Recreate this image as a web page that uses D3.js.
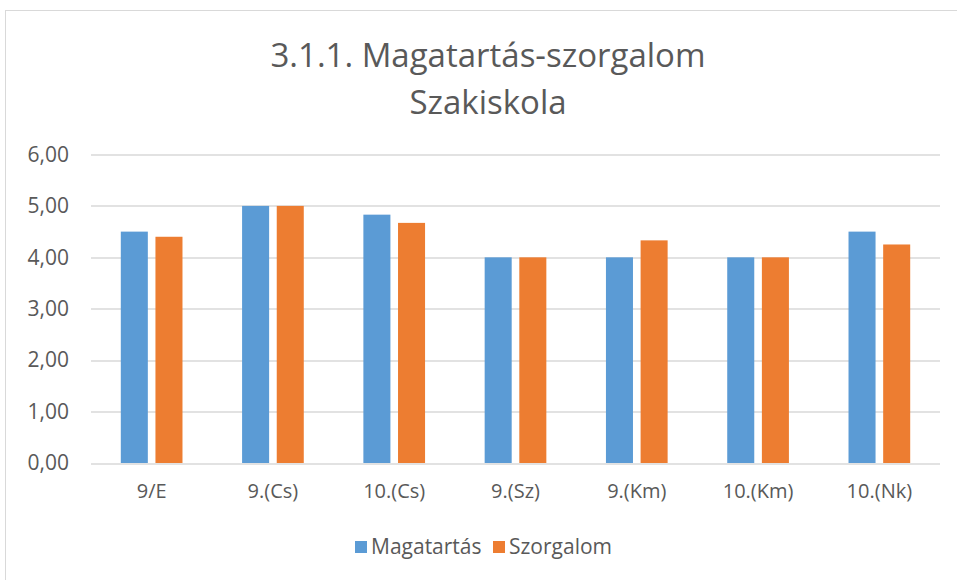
<!DOCTYPE html>
<html lang="hu">
<head>
<meta charset="UTF-8">
<title>3.1.1. Magatartás-szorgalom Szakiskola</title>
<script src="https://d3js.org/d3.v7.min.js"></script>
<style>
  body { margin: 0; background: #fff; }
  svg text { font-family: "Open Sans", "Liberation Sans", sans-serif; fill: #595959; }
</style>
</head>
<body>
<div id="chart"></div>
<script>
// chart data
var categories = ["9/E", "9.(Cs)", "10.(Cs)", "9.(Sz)", "9.(Km)", "10.(Km)", "10.(Nk)"];
var magatartas = [4.50, 5.00, 4.83, 4.00, 4.00, 4.00, 4.50];
var szorgalom  = [4.40, 5.00, 4.67, 4.00, 4.33, 4.00, 4.25];
var seriesNames = ["Magatartás", "Szorgalom"];
var colors = ["#5B9BD5", "#ED7D31"];
var yTicks = [0, 1, 2, 3, 4, 5, 6];

var width = 957, height = 580;
var margin = { top: 154.5, right: 17, bottom: 117, left: 91 };
var plotW = width - margin.left - margin.right,
    plotH = height - margin.top - margin.bottom;

var svg = d3.select("#chart").append("svg")
    .attr("width", width)
    .attr("height", height);

// outer chart border
svg.append("rect")
    .attr("x", 5.5).attr("y", 10.5)
    .attr("width", 960).attr("height", 580)
    .attr("fill", "none")
    .attr("stroke", "#D9D9D9");

// title
var title = svg.append("text")
    .attr("text-anchor", "middle")
    .style("font-size", "33px");
title.append("tspan").attr("x", 488).attr("y", 67).text("3.1.1. Magatartás-szorgalom");
title.append("tspan").attr("x", 488).attr("y", 114).text("Szakiskola");

var g = svg.append("g").attr("transform", "translate(" + margin.left + "," + margin.top + ")");

var x0 = d3.scaleBand().domain(categories).range([0, plotW]).paddingInner(0).paddingOuter(0);
var x1 = d3.scaleBand().domain(seriesNames).range([0, x0.bandwidth()]).paddingInner(0.22).paddingOuter(0.86);
var y = d3.scaleLinear().domain([0, 6]).range([plotH, 0]);

// gridlines
g.append("g")
  .selectAll("line")
  .data(yTicks)
  .join("line")
    .attr("x1", 0).attr("x2", plotW)
    .attr("y1", function(d) { return Math.round(y(d)) + 0.5; })
    .attr("y2", function(d) { return Math.round(y(d)) + 0.5; })
    .attr("stroke", "#D9D9D9")
    .attr("stroke-width", 1.3);

// y axis
var yAxis = g.append("g")
    .call(d3.axisLeft(y).tickValues(yTicks).tickSize(0).tickPadding(22)
      .tickFormat(function(d) { return d3.format(".2f")(d).replace(".", ","); }));
yAxis.select(".domain").remove();
yAxis.selectAll("text").style("font-size", "21px").attr("fill", "#595959");

// x axis
var xAxis = g.append("g")
    .attr("transform", "translate(0," + plotH + ")")
    .call(d3.axisBottom(x0).tickSize(0).tickPadding(21));
xAxis.select(".domain").remove();
xAxis.selectAll("text").style("font-size", "20px").attr("fill", "#595959");

// bars
var rows = categories.map(function(c, i) {
  return { cat: c, values: [magatartas[i], szorgalom[i]] };
});

g.append("g")
  .selectAll("g")
  .data(rows)
  .join("g")
    .attr("transform", function(d) { return "translate(" + x0(d.cat) + ",0)"; })
  .selectAll("rect")
  .data(function(d) { return d.values.map(function(v, j) { return { name: seriesNames[j], value: v }; }); })
  .join("rect")
    .attr("x", function(d) { return x1(d.name); })
    .attr("y", function(d) { return y(d.value); })
    .attr("width", x1.bandwidth())
    .attr("height", function(d) { return plotH - y(d.value); })
    .attr("fill", function(d, j) { return colors[seriesNames.indexOf(d.name)]; });

// legend
var legend = svg.append("g").attr("transform", "translate(355,547)");
var lx = [0, 138];
seriesNames.forEach(function(name, i) {
  var item = legend.append("g").attr("transform", "translate(" + lx[i] + ",0)");
  item.append("rect")
    .attr("x", 0).attr("y", -6)
    .attr("width", 12).attr("height", 12)
    .attr("fill", colors[i]);
  item.append("text")
    .attr("x", 16).attr("y", 0)
    .attr("dy", "0.35em")
    .style("font-size", "21px")
    .text(name);
});
</script>
</body>
</html>
